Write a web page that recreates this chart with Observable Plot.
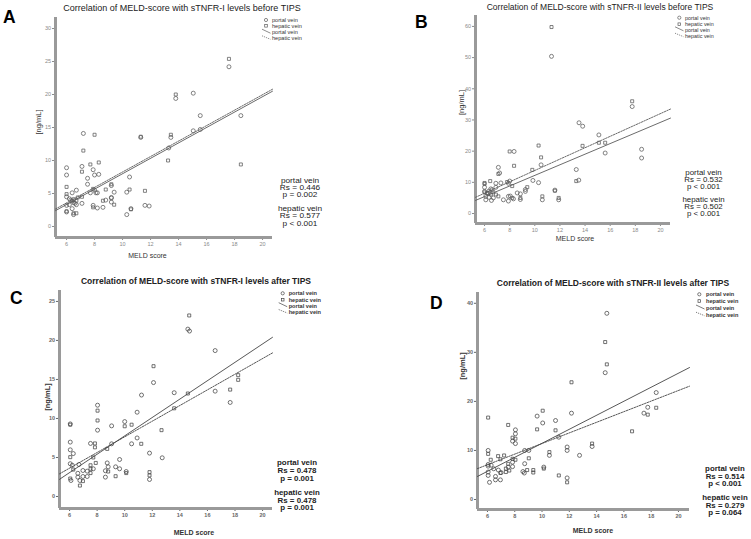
<!DOCTYPE html>
<html><head><meta charset="utf-8">
<script src="https://cdn.jsdelivr.net/npm/d3@7"></script>
<script src="https://cdn.jsdelivr.net/npm/@observablehq/plot@0.6"></script>
<style>
body{margin:0;background:#fff;}
#fig{position:relative;width:751px;height:539px;overflow:hidden;background:#fff;}
#fig svg{position:absolute;}
</style></head><body><div id="fig"></div>
<script>
// ---------- DATA ----------
const meldTicks = [6, 8, 10, 12, 14, 16, 18, 20];
const yTicksA = [0, 5, 10, 15, 20, 25, 30];
const yTicksB = [0, 10, 20, 30, 40, 50, 60];
const yTicksC = [0, 5, 10, 15, 20, 25];
const yTicksD = [0, 10, 20, 30, 40];

// Panel A: sTNFR-I before TIPS  [MELD, ng/mL]
const aPortal = [[17.6,24.2],[13.8,19.4],[15.05,20.2],[15.55,16.8],[18.45,16.8],[15.05,14.5],[15.55,14.7],[7.2,14.1],[11.3,13.5],[13.45,13.5],[13.3,11.9],[6.0,8.9],[6.0,7.8],[7.1,9.1],[7.9,8.6],[8.0,7.8],[8.3,7.9],[7.5,7.3],[7.5,6.4],[10.5,7.5],[9.2,6.2],[6.0,4.5],[6.7,5.5],[6.4,5.1],[7.7,5.1],[8.0,5.5],[8.1,5.1],[8.2,5.1],[9.4,5.2],[9.2,4.4],[10.3,5.2],[6.2,4.2],[6.5,4.1],[6.6,3.5],[6.2,3.3],[7.1,3.5],[6.0,3.2],[6.4,2.7],[6.0,2.2],[6.5,1.8],[7.9,3.2],[8.2,2.8],[8.6,2.9],[8.8,4.0],[9.2,4.3],[9.2,3.7],[10.3,1.8],[10.6,2.7],[11.6,3.2],[11.9,3.1],[6.7,3.3],[6.3,4.0]];
const aHepatic = [[17.6,25.4],[13.8,20.0],[8.0,13.9],[11.3,13.6],[13.45,13.9],[13.25,10.0],[18.45,9.4],[7.2,11.5],[7.1,8.3],[7.7,9.4],[8.3,9.7],[9.2,6.4],[6.0,6.0],[6.0,4.9],[7.1,4.5],[7.9,5.7],[8.8,5.6],[10.5,5.6],[11.6,5.4],[6.4,3.9],[6.7,3.9],[6.0,2.3],[6.5,2.0],[6.7,2.0],[7.9,2.9],[8.6,3.9],[9.4,3.3],[6.5,3.6],[6.8,4.4],[10.6,2.6]];
const aPortalFit = [[5.21,2.4],[20.71,20.5]];
const aHepaticFit = [[5.21,2.65],[20.71,20.8]];

// Panel B: sTNFR-II before TIPS
const bPortal = [[11.33,50.4],[17.75,34.3],[13.52,29.1],[13.81,28.0],[15.1,25.2],[15.6,19.4],[18.5,20.6],[18.5,17.8],[10.5,15.6],[13.3,14.1],[8.35,19.9],[7.1,14.8],[7.2,13.0],[6.9,9.7],[7.3,9.8],[8.0,10.4],[7.9,9.7],[10.3,9.9],[9.85,10.6],[13.5,10.7],[9.25,7.7],[9.25,7.1],[8.6,6.6],[8.85,6.3],[11.6,7.5],[6.9,8.4],[6.5,7.9],[6.0,8.4],[6.0,7.1],[6.35,7.2],[6.6,7.6],[6.1,5.5],[6.35,5.2],[6.7,5.0],[7.5,4.4],[7.9,5.5],[8.05,5.6],[7.9,4.0],[8.3,4.7],[8.85,4.5],[6.1,4.4],[6.55,4.2],[10.6,4.4],[11.9,4.4],[6.3,6.5]];
const bHepatic = [[11.33,59.8],[17.75,36.0],[15.1,22.7],[15.6,22.7],[13.8,21.7],[10.3,21.8],[8.0,19.9],[10.5,18.0],[8.35,15.3],[9.8,14.0],[7.1,12.7],[6.45,10.4],[6.0,9.8],[6.0,9.5],[7.8,10.1],[13.3,10.4],[8.2,8.8],[9.4,8.45],[6.7,6.8],[6.2,6.6],[6.5,6.1],[6.9,6.1],[7.1,5.5],[8.2,5.0],[8.85,5.0],[10.6,5.5],[11.9,5.0],[11.6,7.3],[6.0,6.8]];
const bPortalFit = [[5.28,4.2],[20.8,30.6]];
const bHepaticFit = [[5.28,5.2],[20.8,33.5]];

// Panel C: sTNFR-I after TIPS
const cPortal = [[14.58,21.45],[14.7,21.2],[16.56,18.7],[12.09,14.6],[13.59,13.3],[16.56,13.5],[17.65,12.05],[11.22,13.0],[8.03,11.7],[8.03,8.5],[6.05,9.3],[10.9,10.8],[10.0,9.6],[9.05,9.05],[6.05,6.97],[6.05,5.98],[6.27,5.5],[6.05,4.2],[6.2,4.0],[6.68,4.1],[7.52,6.8],[7.72,3.55],[6.97,3.33],[7.28,3.25],[6.6,2.97],[6.97,2.56],[7.28,2.56],[6.6,2.48],[6.75,2.05],[6.1,2.05],[9.05,6.75],[9.63,4.74],[8.73,4.3],[8.8,3.8],[8.6,3.3],[9.34,3.8],[9.63,3.55],[8.6,2.48],[10.11,3.2],[10.9,7.5],[10.5,6.75],[11.8,5.56],[11.8,2.18],[12.72,4.96]];
const cHepatic = [[14.68,23.2],[12.09,16.7],[18.23,15.55],[18.23,14.95],[14.58,13.2],[17.65,13.7],[13.59,11.3],[8.03,11.0],[8.03,9.74],[6.05,9.2],[10.0,9.0],[10.5,9.2],[12.67,8.5],[6.05,5.04],[6.27,3.45],[7.84,6.8],[7.84,6.3],[7.72,5.0],[7.9,4.3],[7.52,4.0],[7.52,3.55],[7.52,3.0],[6.97,1.97],[6.75,1.4],[6.05,2.3],[8.73,6.1],[8.8,3.2],[9.34,2.6],[10.11,3.0],[11.2,6.75],[11.8,3.12],[11.8,2.7]];
const cPortalFit = [[5.27,2.2],[20.72,20.4]];
const cHepaticFit = [[5.27,2.9],[20.72,18.4]];

// Panel D: sTNFR-II after TIPS
const dPortal = [[14.75,37.96],[14.63,25.85],[18.37,21.8],[17.75,18.8],[9.64,17.0],[10.05,15.6],[10.99,16.1],[12.16,17.6],[17.47,17.6],[8.05,14.2],[8.05,13.4],[8.05,11.4],[7.84,11.9],[6.05,10.0],[6.05,7.14],[6.05,6.8],[6.27,7.0],[6.46,6.26],[6.05,5.6],[6.05,4.9],[6.15,3.5],[6.59,4.7],[6.59,4.0],[6.95,4.0],[7.52,6.6],[7.84,7.6],[7.84,6.7],[8.73,7.3],[8.6,5.7],[8.7,5.4],[8.73,10.0],[9.03,10.0],[10.13,6.6],[10.54,9.0],[11.23,12.7],[11.84,10.7],[11.84,10.0],[11.84,4.4],[12.75,9.0],[13.67,10.8],[6.8,6.0],[7.0,5.5]];
const dHepatic = [[14.63,32.1],[14.75,27.55],[12.16,23.9],[18.37,18.7],[10.05,18.1],[6.05,16.7],[7.52,15.2],[17.75,17.3],[16.6,13.9],[9.64,14.3],[10.99,14.1],[8.05,12.4],[7.84,12.6],[6.05,9.3],[6.24,8.1],[6.78,8.84],[7.22,8.98],[6.95,8.2],[6.95,5.4],[7.35,6.3],[7.35,5.6],[7.52,7.27],[7.6,5.9],[7.84,8.3],[8.05,8.1],[8.91,6.0],[9.03,8.4],[9.36,6.0],[9.36,5.5],[10.13,6.3],[10.54,9.66],[11.23,4.9],[11.84,3.5],[13.67,11.4]];
const dPortalFit = [[5.27,4.7],[20.81,26.9]];
const dHepaticFit = [[5.27,6.3],[20.81,23.1]];

// ---------- TEXT ----------
const titles = [
  "Correlation of MELD-score with sTNFR-I levels before TIPS",
  "Correlation of MELD-score with sTNFR-II levels before TIPS",
  "Correlation of MELD-score with sTNFR-I levels after TIPS",
  "Correlation of MELD-score with sTNFR-II levels after TIPS"
];
const letters = ["A", "B", "C", "D"];
const legendLabels = ["portal vein", "hepatic vein", "portal vein", "hepatic vein"];
const statsA = ["portal vein", "Rs = 0.446", "p = 0.002", "hepatic vein", "Rs = 0.577", "p < 0.001"];
const statsB = ["portal vein", "Rs = 0.532", "p < 0.001", "hepatic vein", "Rs = 0.502", "p < 0.001"];
const statsC = ["portal vein", "Rs = 0.478", "p = 0.001", "hepatic vein", "Rs = 0.478", "p = 0.001"];
const statsD = ["portal vein", "Rs = 0.514", "p < 0.001", "hepatic vein", "Rs = 0.279", "p = 0.064"];
const xLabel = "MELD score";
const yLabel = "[ng/mL]";

// ---------- LAYOUT ----------
const FONT = '"Liberation Sans", Arial, Helvetica, sans-serif';
const fig = document.getElementById("fig");

const panels = [
  {portal:aPortal, hepatic:aHepatic, pf:aPortalFit, hf:aHepaticFit, yTicks:yTicksA,
   left:0, top:0, w:375, h:265, ml:55, mr:103, mt:17, mb:28, xd:[5.21,20.71], yd:[-1.67,31.67],
   bold:false, tickColor:"#8a8a8a", ink:"#5a5a5a",
   letter:[3,23], title:[182,7.3,9], xl:[147.5,255], yl:[38,122],
   stats:{x:300, ys:[180.2,187.4,194.6,208.8,216.0,223.2], size:6.9, stretch:1.2},
   leg:{sx:266, tx:272, ys:[20,25.8,32.2,38.3], size:5.6}},
  {portal:bPortal, hepatic:bHepatic, pf:bPortalFit, hf:bHepaticFit, yTicks:yTicksB,
   left:375, top:0, w:376, h:250, ml:100, mr:81, mt:15, mb:27, xd:[5.28,20.8], yd:[-3.2,63.5],
   bold:false, tickColor:"#8a8a8a", ink:"#5a5a5a",
   letter:[415,28], title:[600,7,8.5], xl:[575,238], yl:[461.7,102.5],
   stats:{x:703.5, ys:[173.0,180.0,187.0,199.6,206.6,213.6], size:6.7, stretch:1.18},
   leg:{sx:679.3, tx:685, ys:[17.7,24.2,29.8,35.7], size:5.4}},
  {portal:cPortal, hepatic:cHepatic, pf:cPortalFit, hf:cHepaticFit, yTicks:yTicksC,
   left:0, top:265, w:375, h:274, ml:59, mr:103, mt:25, mb:31, xd:[5.27,20.72], yd:[-1.54,26.4],
   bold:true, tickColor:"#666", ink:"#444",
   letter:[10,304], title:[196,281,8.5], xl:[194,532.7], yl:[47,397],
   stats:{x:297, ys:[462.7,470.5,478.3,492.3,500,507.7], size:7.2, stretch:1.1},
   leg:{sx:282.7, tx:288.7, ys:[293.3,299.7,305.7,312], size:5.6}},
  {portal:dPortal, hepatic:dHepatic, pf:dPortalFit, hf:dHepaticFit, yTicks:yTicksD,
   left:375, top:265, w:376, h:274, ml:102, mr:62, mt:27, mb:30, xd:[5.27,20.81], yd:[-2.04,42.2],
   bold:true, tickColor:"#666", ink:"#444",
   letter:[430,309], title:[613,283,8.5], xl:[593,530], yl:[462.3,366],
   stats:{x:725, ys:[469.0,476.3,483.6,498.0,505.2,512.4], size:6.9, stretch:1.14},
   leg:{sx:699.3, tx:706, ys:[294.3,301,308,314.7], size:5.6}}
];
const stats = [statsA, statsB, statsC, statsD];

const X = d => d[0], Y = d => d[1];

panels.forEach((p, i) => {
  const svg = Plot.plot({
    width: p.w, height: p.h,
    marginLeft: p.ml, marginRight: p.mr, marginTop: p.mt, marginBottom: p.mb,
    style: {fontSize: "5.5px", fontFamily: FONT, color: p.tickColor, background: "transparent",
            fontWeight: p.bold ? "bold" : "normal", overflow: "visible"},
    x: {domain: p.xd, ticks: meldTicks, tickSize: 3, tickPadding: 1.5, label: null},
    y: {domain: p.yd, ticks: p.yTicks, tickSize: 3, tickPadding: 1.5, label: null},
    marks: [
      Plot.ruleX([p.xd[0]], {stroke: "#9a9a9a", strokeWidth: 3}),
      Plot.ruleY([p.yd[0]], {stroke: "#9a9a9a", strokeWidth: 3}),
      Plot.line(p.pf, {x: X, y: Y, stroke: p.ink, strokeWidth: 0.9}),
      Plot.line(p.hf, {x: X, y: Y, stroke: p.ink, strokeWidth: 0.9, strokeDasharray: "1.6,1.2"}),
      Plot.dot(p.portal, {x: X, y: Y, r: 2, stroke: p.ink, strokeWidth: 0.75, fill: "none"}),
      Plot.dot(p.hepatic, {x: X, y: Y, r: 1.7, symbol: "square", stroke: p.ink, strokeWidth: 0.75, fill: "none"})
    ]
  });
  svg.style.position = "absolute";
  svg.style.left = p.left + "px";
  svg.style.top = p.top + "px";
  fig.appendChild(svg);
});

// ---------- ANNOTATION OVERLAY ----------
const ov = d3.select(fig).append("svg")
  .attr("width", 751).attr("height", 539)
  .style("left", "0px").style("top", "0px")
  .attr("font-family", FONT);

function txt(x, yc, s, size, opts = {}) {
  const t = ov.append("text")
    .attr("x", x).attr("y", yc + 0.36 * size)
    .attr("font-size", size)
    .attr("fill", opts.fill || "#222")
    .attr("font-weight", opts.bold ? "bold" : "normal")
    .attr("text-anchor", opts.anchor || "start")
    .text(s);
  if (opts.stretch) {
    const w = t.node().getComputedTextLength();
    t.attr("textLength", w * opts.stretch).attr("lengthAdjust", "spacingAndGlyphs");
  }
  return t;
}

panels.forEach((p, i) => {
  const wt = p.bold;
  ov.append("text").attr("x", p.letter[0]).attr("y", p.letter[1])
    .attr("font-size", 17.5).attr("font-weight", "bold").attr("fill", "#000").text(letters[i]);
  txt(p.title[0], p.title[1], titles[i], p.title[2], {anchor: "middle", bold: wt, fill: "#222"});
  txt(p.xl[0], p.xl[1], xLabel, 7, {anchor: "middle", bold: wt, fill: "#333"});
  ov.append("text")
    .attr("transform", `translate(${p.yl[0] + 0.36 * 7.5},${p.yl[1]}) rotate(-90)`)
    .attr("font-size", 7.5).attr("text-anchor", "middle")
    .attr("font-weight", wt ? "bold" : "normal").attr("fill", "#333").text(yLabel);
  stats[i].forEach((s, k) => txt(p.stats.x, p.stats.ys[k], s, p.stats.size,
    {anchor: "middle", bold: wt, fill: "#222", stretch: p.stats.stretch}));
  const L = p.leg, col = p.ink;
  ov.append("circle").attr("cx", L.sx).attr("cy", L.ys[0]).attr("r", 1.6)
    .attr("fill", "none").attr("stroke", col).attr("stroke-width", 0.7);
  ov.append("rect").attr("x", L.sx - 1.3).attr("y", L.ys[1] - 1.3).attr("width", 2.6).attr("height", 2.6)
    .attr("fill", "none").attr("stroke", col).attr("stroke-width", 0.7);
  ov.append("line").attr("x1", L.tx - 10).attr("y1", L.ys[2] - 3).attr("x2", L.tx - 1.5).attr("y2", L.ys[2] + 1)
    .attr("stroke", col).attr("stroke-width", 0.7);
  ov.append("line").attr("x1", L.tx - 10).attr("y1", L.ys[3] - 2.5).attr("x2", L.tx - 1.5).attr("y2", L.ys[3] + 1)
    .attr("stroke", col).attr("stroke-width", 0.7).attr("stroke-dasharray", "1.2,1");
  legendLabels.forEach((s, k) => txt(L.tx, L.ys[k], s, L.size, {bold: wt, fill: "#333"}));
});
</script>
</body></html>
